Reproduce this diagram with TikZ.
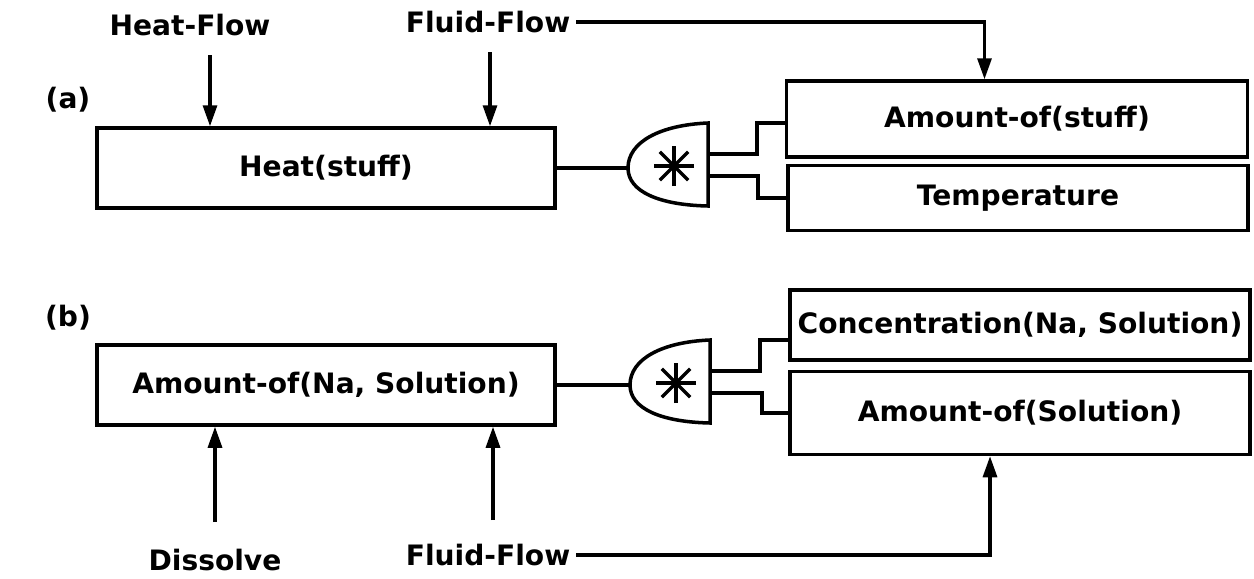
\documentclass[tikz,border=0pt]{standalone}
\usepackage{fontspec}
\setmainfont{DejaVu Sans}
\usetikzlibrary{arrows.meta,positioning}

\tikzset{
  txt/.style={font=\fontsize{16}{19}\selectfont\bfseries},
  box/.style={draw, txt, line width=2pt, inner sep=0pt},
  wire/.style={line width=2pt},
  flow/.style={line width=1.8pt, -{Triangle[length=0.42cm,width=0.28cm]}},
  gate/.pic={
    \draw[wire] (0,0) .. controls (0,-26) and (32,-43) .. (80,-45) -- (80,38)
      .. controls (32,37) and (0,24) .. (0,0) -- cycle;
    \foreach \a in {0,45,90,135}
      \draw[line width=1.9pt] (46,-2) ++(\a:20) -- ++(\a+180:40);
    \coordinate (-in) at (0,0);
    \coordinate (-o1) at (80,-14);
    \coordinate (-o2) at (80,8);
  }
}

\begin{document}
\begin{tikzpicture}[x=0.02cm, y=-0.02cm]
\useasboundingbox (0,0) rectangle (1254,578);

% (a)
\node[txt] (a) at (68,100) {(a)};
\node[txt] (hflowA) at (190,25) {Heat-Flow};
\node[txt] (fflowA) at (488,22) {Fluid-Flow};
\node[box, minimum width=9.16cm, minimum height=1.6cm] (heat) at (326,168) {Heat(stuff)};
\pic (gA) at (628,168) {gate};
\node[box, minimum width=9.22cm, minimum height=1.52cm] (amtA) at (1017,119) {Amount-of(stuff)};
\node[box, minimum width=9.2cm, minimum height=1.3cm] (tempA) at (1018,198) {Temperature};

\coordinate (hfA-s) at (210,55);
\coordinate (ffA-s) at (490,52);
\draw[flow] (hfA-s) -- (hfA-s |- heat.north);
\draw[flow] (ffA-s) -- (ffA-s |- heat.north);
\draw[flow] (fflowA.east) -| ([xshift=-0.65cm]amtA.north);

\draw[wire] (heat.east) -- (gA-in);
\draw[wire] (gA-o1) -- ++(49,0) |- ([yshift=-0.08cm]amtA.west);
\draw[wire] (gA-o2) -- ++(50,0) |- (tempA.west);

% (b)
\node[txt] (b) at (68,318) {(b)};
\node[box, minimum width=9.16cm, minimum height=1.6cm] (amtNa) at (326,385) {Amount-of(Na, Solution)};
\pic (gB) at (630,385) {gate};
\node[box, minimum width=9.2cm, minimum height=1.4cm] (conc) at (1020,325) {Concentration(Na, Solution)};
\node[box, minimum width=9.2cm, minimum height=1.66cm] (amtSol) at (1020,413) {Amount-of(Solution)};
\node[txt] (dis) at (215,560) {Dissolve};
\node[txt] (fflowB) at (488,555) {Fluid-Flow};

\coordinate (dis-s) at (215,522);
\coordinate (ffB-s) at (493,520);
\draw[flow] (dis-s) -- (dis-s |- amtNa.south);
\draw[flow] (ffB-s) -- (ffB-s |- amtNa.south);
\draw[flow] (fflowB.east) -| ([xshift=-0.6cm]amtSol.south);

\draw[wire] (amtNa.east) -- (gB-in);
\draw[wire] (gB-o1) -- ++(50,0) |- ([yshift=-0.3cm]conc.west);
\draw[wire] (gB-o2) -- ++(52,0) |- (amtSol.west);
\end{tikzpicture}
\end{document}
